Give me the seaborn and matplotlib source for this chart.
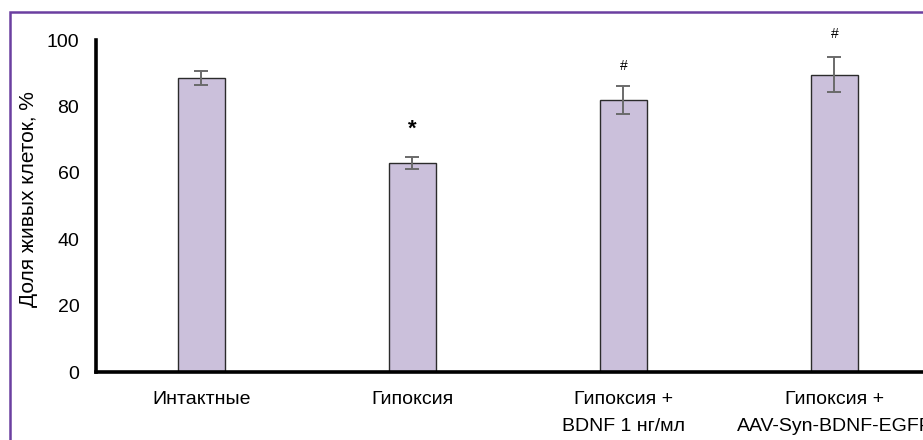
import seaborn as sns
import matplotlib.pyplot as plt
import matplotlib.patches as mpatches
import pandas as pd

# data
groups = ['Интактные', 'Гипоксия', 'Гипоксия +\nBDNF 1 нг/мл', 'Гипоксия +\nAAV-Syn-BDNF-EGFP']
alive = [88.7, 63.0, 81.9, 89.5]
err = [2.1, 1.7, 4.2, 5.3]
marks = ['', '*', '#', '#']
mark_y = [0, 73.1, 92.2, 101.8]

df = pd.DataFrame({'group': groups, 'alive': alive})

sns.set_style('white')
plt.rcParams['font.family'] = ['Liberation Sans', 'DejaVu Sans']
plt.rcParams['text.color'] = 'black'
plt.rcParams['xtick.color'] = 'black'
plt.rcParams['ytick.color'] = 'black'

fig = plt.figure(figsize=(9.23, 4.40), dpi=100)
ax = fig.add_axes([0.104, 0.1545, 0.9144, 0.7545])

sns.barplot(data=df, x='group', y='alive', color='#CBC0DB', saturation=1,
            width=0.22, edgecolor='#2b2b2b', linewidth=1.0, errorbar=None, ax=ax)
ax.errorbar(range(len(groups)), alive, yerr=err, fmt='none', ecolor='#6a6a6a',
            elinewidth=1.4, capsize=5, capthick=1.4)

for i, m in enumerate(marks):
    if not m:
        continue
    if m == '*':
        ax.text(i, mark_y[i], m, ha='center', va='center', fontsize=16,
                fontweight='bold', clip_on=False)
    else:
        ax.text(i, mark_y[i], m, ha='center', va='center', fontsize=10, clip_on=False)

ax.set_ylim(0, 100)
ax.set_xlim(-0.5, len(groups) - 0.5)
ax.set_yticks([0, 20, 40, 60, 80, 100])
ax.tick_params(axis='y', length=0, pad=12, labelsize=14)
ax.tick_params(axis='x', length=0, pad=14, labelsize=14)
for lbl in ax.get_xticklabels():
    lbl.set_linespacing(1.75)
ax.set_xlabel('')
ax.set_ylabel('')
fig.text(29 / 923, 1 - 199.5 / 440, 'Доля живых клеток, %', rotation=90,
         ha='center', va='center', fontsize=15)

sns.despine(ax=ax)
for side in ['left', 'bottom']:
    ax.spines[side].set_linewidth(2.6)
    ax.spines[side].set_color('black')

# purple frame round the figure
frame = mpatches.Rectangle((10 / 923, -0.1), 1.1, 1.1 - 12 / 440, transform=fig.transFigure,
                           fill=False, edgecolor='#6B3FA0', linewidth=1.8, clip_on=False)
fig.patches.append(frame)

fig.savefig('out.png', dpi=100)
